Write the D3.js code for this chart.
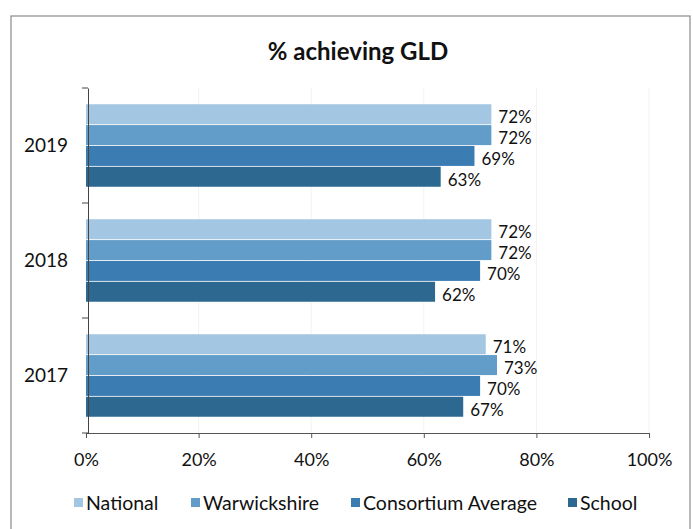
<!DOCTYPE html>
<html lang="en">
<head>
    <meta charset="UTF-8">
    <title>% achieving GLD</title>
    <script src="https://d3js.org/d3.v7.min.js"></script>
    <style>
        body { margin: 0; background: #fff; }
        svg { display: block; font-family: Lato, "Open Sans", sans-serif; }
    </style>
</head>
<body>
    <div class="chart"></div>
    <script>
        // 資料
        const years = ['2019', '2018', '2017']
        const series = ['National', 'Warwickshire', 'Consortium Average', 'School']
        const national = [72, 72, 71]
        const warwickshire = [72, 72, 73]
        const consortium = [69, 70, 70]
        const school = [63, 62, 67]
        const xTicks = [0, 20, 40, 60, 80, 100]
        const colors = ['#a3c6e2', '#629cc8', '#3b7cb2', '#2d6891']

        const values = [national, warwickshire, consortium, school]

        const width = 693, height = 529
        const svg = d3.select('.chart')
            .append('svg')
            .attr('width', width)
            .attr('height', height)

        // 外框
        svg.append('rect')
            .attr('x', 11).attr('y', 16)
            .attr('width', 679).attr('height', 540)
            .attr('fill', 'none')
            .attr('stroke', '#8a8a8a')
            .attr('stroke-width', 1.2)

        // 標題
        svg.append('text')
            .attr('x', 358).attr('y', 60)
            .attr('text-anchor', 'middle')
            .style('font-size', '24px')
            .style('font-weight', 'bold')
            .attr('fill', '#111')
            .text('% achieving GLD')

        // X軸
        const xScale = d3.scaleLinear()
            .domain([0, 100])
            .range([86, 649])

        // Y軸
        const yScale = d3.scaleBand()
            .domain(years)
            .range([88, 433])
            .padding(0)

        const ySub = d3.scaleBand()
            .domain(series)
            .range([0, yScale.bandwidth()])
            .paddingInner(0.04)
            .paddingOuter(0.78)

        // 格線
        svg.append('g')
            .selectAll('line')
            .data(xTicks.slice(1))
            .enter()
            .append('line')
            .attr('x1', d => xScale(d)).attr('x2', d => xScale(d))
            .attr('y1', 88).attr('y2', 433)
            .attr('stroke', '#f2f2f2')

        // 加上長條
        const groups = svg.append('g')
            .selectAll('g')
            .data(years)
            .enter()
            .append('g')
            .attr('transform', d => `translate(0, ${yScale(d)})`)

        groups.selectAll('rect')
            .data((d, i) => series.map((s, j) => ({ s: s, j: j, v: values[j][i] })))
            .enter()
            .append('rect')
            .attr('x', xScale(0))
            .attr('y', d => ySub(d.s))
            .attr('width', d => xScale(d.v) - xScale(0))
            .attr('height', ySub.bandwidth())
            .attr('fill', d => colors[d.j])

        // 數值標籤
        groups.selectAll('text')
            .data((d, i) => series.map((s, j) => ({ s: s, j: j, v: values[j][i] })))
            .enter()
            .append('text')
            .attr('x', d => xScale(d.v) + 7)
            .attr('y', d => ySub(d.s) + ySub.bandwidth() / 2 + 9)
            .style('font-size', '17px')
            .attr('fill', '#111')
            .text(d => d.v + '%')

        const xAxis = d3.axisBottom(xScale)
            .tickValues(xTicks)
            .tickSize(5)
            .tickPadding(15)
            .tickFormat(d => d + '%')

        const gx = svg.append('g')
            .attr('transform', `translate(0, 433)`)
            .call(xAxis)
        gx.select('.domain').attr('stroke', '#555')
        gx.selectAll('.tick line').attr('stroke', '#555')
        gx.selectAll('.tick text')
            .style('font-size', '18px')
            .style('font-family', 'Lato, sans-serif')
            .attr('fill', '#111')

        const yAxis = d3.axisLeft(yScale)
            .tickSize(0)
            .tickPadding(20)

        const gy = svg.append('g')
            .attr('transform', `translate(88, 0)`)
            .call(yAxis)
        gy.select('.domain').attr('stroke', '#444')
        gy.selectAll('.tick text')
            .style('font-size', '19px')
            .style('font-family', 'Lato, sans-serif')
            .attr('fill', '#111')
        // 類別分隔刻度
        gy.append('g')
            .selectAll('line')
            .data(years.concat(['end']))
            .enter()
            .append('line')
            .attr('x1', -6).attr('x2', 0)
            .attr('y1', (d, i) => i < years.length ? yScale(d) : yScale.range()[1])
            .attr('y2', (d, i) => i < years.length ? yScale(d) : yScale.range()[1])
            .attr('stroke', '#444')

        // 圖例
        const legendX = [74, 191, 351, 568]
        const legend = svg.append('g')
            .selectAll('g')
            .data(series)
            .enter()
            .append('g')
            .attr('transform', (d, i) => `translate(${legendX[i]}, 503)`)
        legend.append('rect')
            .attr('x', 0).attr('y', -5)
            .attr('width', 9).attr('height', 9)
            .attr('fill', (d, i) => colors[i])
        legend.append('text')
            .attr('x', 12).attr('y', 7)
            .style('font-size', '19.5px')
            .attr('fill', '#111')
            .text(d => d)
    </script>
</body>
</html>
